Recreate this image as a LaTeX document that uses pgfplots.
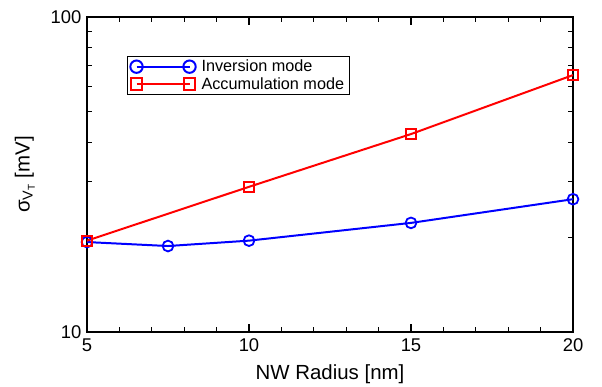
\documentclass[border=0pt]{standalone}
\usepackage{pgfplots}
\pgfplotsset{compat=1.18}
\usepackage{fontspec}
\setmainfont{Liberation Sans}
\begin{document}
\begin{tikzpicture}
\begin{axis}[
  scale only axis,
  width=486bp, height=315bp,
  xmin=5, xmax=20,
  ymode=log, ymin=10, ymax=100,
  xtick={5,10,15,20},
  minor x tick num=4,
  ytick={10,100},
  yticklabels={10,100},
  log ticks with fixed point,
  tick align=inside,
  major tick length=8bp,
  minor tick length=5bp,
  tick style={black, line width=1.2pt},
  axis line style={line width=1.6pt},
  tick label style={font=\fontsize{18.5}{20}\selectfont},
  xticklabel style={yshift=-3bp},
  yticklabel style={xshift=-2bp},
  /pgf/number format/assume math mode=true,
  xlabel={NW Radius [nm]},
  ylabel={σ\textsubscript{V\textsubscript{T}} [mV]},
  label style={font=\fontsize{20.5}{22}\selectfont},
  xlabel style={yshift=-6bp},
  ylabel style={yshift=9bp},
  legend style={at={(rel axis cs:0.082,0.876)}, anchor=north west, font=\fontsize{16.3}{18}\selectfont, draw=black, line width=1pt, inner xsep=3pt, inner ysep=1.5pt, row sep=0pt},
  legend cell align=left,
  legend image code/.code={
    \path (0bp,0bp) (62bp,0bp);
    \draw[mark repeat=1,#1,line width=2pt, mark options={scale=1.15}] plot coordinates {(0bp,0bp) (53bp,0bp)};
  },
]
\addplot[blue, line width=2pt, mark=o, mark size=5.4pt, mark options={solid, line width=1.8pt}]
  coordinates {(5,19.3) (7.5,18.75) (10,19.5) (15,22.2) (20,26.4)};
\addlegendentry{Inversion mode}
\addplot[red, line width=2pt, mark=square, mark size=5pt, mark options={solid, line width=1.8pt}]
  coordinates {(5,19.5) (10,28.9) (15,42.5) (20,65.4)};
\addlegendentry{Accumulation mode}
\end{axis}
\path (current axis.south west) ++(-87bp,-55bp) (current axis.north east) ++(29bp,17bp);
\end{tikzpicture}
\end{document}
